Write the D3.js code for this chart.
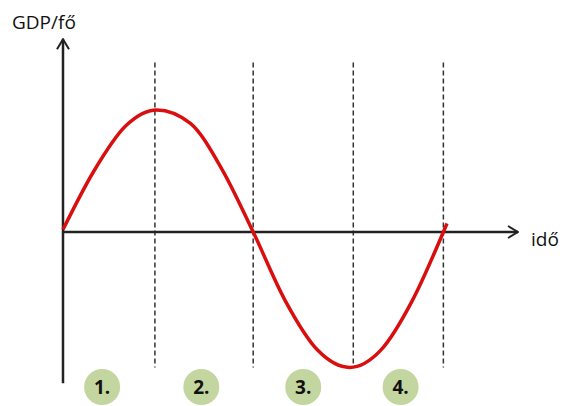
<!DOCTYPE html>
<meta charset="utf-8">
<head>
  <title>GDP/fő ciklus</title>
  <style>
    body { margin: 0; background: #fff; }
    text { font-family: "Open Sans", "DejaVu Sans", sans-serif; }
  </style>
</head>
<body>
<div id="chart"></div>
<script src="https://d3js.org/d3.v7.min.js"></script>
<script>

// curve (time in phase units, GDP/fő relative to trend)
var curveT   = [0, 0.34, 0.69, 1.03, 1.40, 1.75, 2.09, 2.44, 2.80, 3.15, 3.49, 3.84, 4.18, 4.22];
var curveGdp = [0.02, 0.50, 0.87, 1.0, 0.89, 0.51, 0, -0.56, -0.97, -1.11, -0.97, -0.56, 0, 0.07];

// phase boundaries (dashed lines) and phase labels
var boundaryT = [1.01, 2.09, 3.19, 4.18];
var phaseLabels = ["1.", "2.", "3.", "4."];
var phaseLabelT = [0.43, 1.52, 2.64, 3.71];

var xLabel = "idő",
    yLabel = "GDP/fő";

var width = 566, height = 406;

// scales
var x = d3.scaleLinear().domain([0, 5]).range([63, 518]);
var y = d3.scaleLinear().domain([-1, 1]).range([354, 110]);

var svg = d3.select("#chart").append("svg")
    .attr("width", width)
    .attr("height", height);

// arrowhead
svg.append("defs").append("marker")
    .attr("id", "arrow")
    .attr("viewBox", "0 0 12 14")
    .attr("refX", 11).attr("refY", 7)
    .attr("markerWidth", 12).attr("markerHeight", 14)
    .attr("markerUnits", "userSpaceOnUse")
    .attr("orient", "auto")
  .append("path")
    .attr("d", "M1,1 L11,7 L1,13")
    .style("fill", "none")
    .style("stroke", "#222")
    .style("stroke-width", 2);

// dashed phase lines
svg.append("g")
  .selectAll("line")
  .data(boundaryT)
  .enter().append("line")
    .attr("x1", function(d) { return x(d); })
    .attr("x2", function(d) { return x(d); })
    .attr("y1", y(1.39))
    .attr("y2", y(-1.11))
    .style("stroke", "#333")
    .style("stroke-width", 1.5)
    .style("stroke-dasharray", "5,3");

// axes
svg.append("line")
    .attr("x1", x(0)).attr("x2", x(0))
    .attr("y1", y(-1.24)).attr("y2", y(1.58))
    .style("stroke", "#222")
    .style("stroke-width", 2.5)
    .attr("marker-end", "url(#arrow)");

svg.append("line")
    .attr("x1", x(0)).attr("x2", x(5))
    .attr("y1", y(0)).attr("y2", y(0))
    .style("stroke", "#222")
    .style("stroke-width", 2.5)
    .attr("marker-end", "url(#arrow)");

// the cycle curve
var pts = curveT.map(function(t, i) { return [t, curveGdp[i]]; });
var line = d3.line()
    .x(function(d) { return x(d[0]); })
    .y(function(d) { return y(d[1]); })
    .curve(d3.curveMonotoneX);

svg.append("path")
    .datum(pts)
    .attr("d", line)
    .style("fill", "none")
    .style("stroke", "#d90f0f")
    .style("stroke-width", 3.5)
    .style("stroke-linecap", "butt");

// axis labels
svg.append("text")
    .attr("x", 12).attr("y", 29)
    .style("font-size", "19px")
    .style("fill", "#111")
    .text(yLabel);

svg.append("text")
    .attr("x", 531).attr("y", 246)
    .style("font-size", "19px")
    .style("fill", "#111")
    .text(xLabel);

// phase badges
var badge = svg.append("g")
  .selectAll("g")
  .data(phaseLabels)
  .enter().append("g")
    .attr("transform", function(d, i) { return "translate(" + x(phaseLabelT[i]) + "," + 387 + ")"; });

badge.append("circle")
    .attr("r", 18)
    .style("fill", "#c4d69f");

badge.append("text")
    .attr("text-anchor", "middle")
    .attr("dy", "0.36em")
    .style("font-size", "19px")
    .style("font-weight", "bold")
    .style("fill", "#111")
    .text(function(d) { return d; });

</script>
</body>
</html>
